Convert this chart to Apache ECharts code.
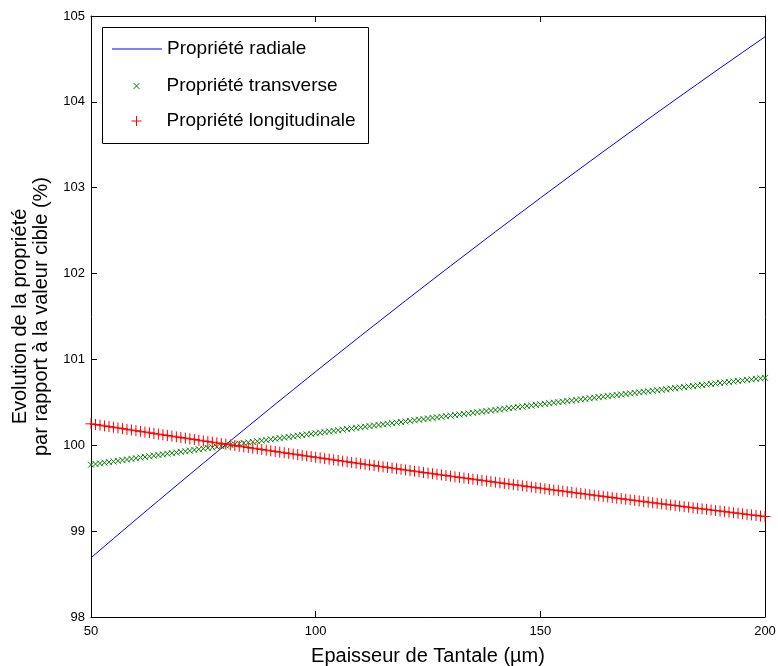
<!DOCTYPE html>
<html><head><meta charset="utf-8">
<script src="https://cdn.jsdelivr.net/npm/echarts@6/dist/echarts.min.js"></script>
<style>html,body{margin:0;padding:0;background:#fff}#c{width:778px;height:666px}</style>
</head><body><div id="c"></div>
<script>
// Thickness of tantalum (µm) for marker series
const thickness = [50,51,52,53,54,55,56,57,58,59,60,61,62,63,64,65,66,67,68,69,70,71,72,73,74,75,76,77,78,79,80,81,82,83,84,85,86,87,88,89,90,91,92,93,94,95,96,97,98,99,100,101,102,103,104,105,106,107,108,109,110,111,112,113,114,115,116,117,118,119,120,121,122,123,124,125,126,127,128,129,130,131,132,133,134,135,136,137,138,139,140,141,142,143,144,145,146,147,148,149,150,151,152,153,154,155,156,157,158,159,160,161,162,163,164,165,166,167,168,169,170,171,172,173,174,175,176,177,178,179,180,181,182,183,184,185,186,187,188,189,190,191,192,193,194,195,196,197,198,199,200];
// Thickness for the radial line
const radialThickness = [50,55,60,65,70,75,80,85,90,95,100,105,110,115,120,125,130,135,140,145,150,155,160,165,170,175,180,185,190,195,200];
const radial = [98.690,98.913,99.135,99.355,99.574,99.792,100.008,100.222,100.436,100.647,100.858,101.066,101.274,101.479,101.684,101.887,102.088,102.288,102.487,102.684,102.880,103.074,103.267,103.458,103.648,103.837,104.024,104.209,104.394,104.576,104.758];
const transverse = [99.774,99.782,99.789,99.797,99.804,99.812,99.819,99.827,99.834,99.842,99.849,99.857,99.864,99.872,99.879,99.887,99.894,99.902,99.909,99.916,99.924,99.931,99.938,99.946,99.953,99.960,99.968,99.975,99.982,99.990,99.997,100.004,100.011,100.019,100.026,100.033,100.040,100.047,100.055,100.062,100.069,100.076,100.083,100.090,100.097,100.104,100.112,100.119,100.126,100.133,100.140,100.147,100.154,100.161,100.168,100.175,100.182,100.189,100.196,100.203,100.209,100.216,100.223,100.230,100.237,100.244,100.251,100.258,100.264,100.271,100.278,100.285,100.292,100.298,100.305,100.312,100.319,100.325,100.332,100.339,100.346,100.352,100.359,100.366,100.372,100.379,100.385,100.392,100.399,100.405,100.412,100.418,100.425,100.432,100.438,100.445,100.451,100.458,100.464,100.471,100.477,100.483,100.490,100.496,100.503,100.509,100.516,100.522,100.528,100.535,100.541,100.547,100.554,100.560,100.566,100.573,100.579,100.585,100.591,100.598,100.604,100.610,100.616,100.623,100.629,100.635,100.641,100.647,100.653,100.660,100.666,100.672,100.678,100.684,100.690,100.696,100.702,100.708,100.714,100.720,100.726,100.732,100.738,100.744,100.750,100.756,100.762,100.768,100.774,100.780,100.786];
const longitudinal = [100.250,100.242,100.234,100.226,100.218,100.210,100.202,100.194,100.186,100.178,100.170,100.162,100.154,100.146,100.138,100.130,100.122,100.114,100.106,100.098,100.090,100.083,100.075,100.067,100.059,100.051,100.043,100.036,100.028,100.020,100.012,100.005,99.997,99.989,99.982,99.974,99.966,99.959,99.951,99.943,99.936,99.928,99.920,99.913,99.905,99.898,99.890,99.883,99.875,99.868,99.860,99.853,99.845,99.838,99.830,99.823,99.815,99.808,99.800,99.793,99.786,99.778,99.771,99.764,99.756,99.749,99.742,99.734,99.727,99.720,99.712,99.705,99.698,99.691,99.683,99.676,99.669,99.662,99.655,99.648,99.640,99.633,99.626,99.619,99.612,99.605,99.598,99.591,99.584,99.577,99.570,99.563,99.556,99.549,99.542,99.535,99.528,99.521,99.514,99.507,99.500,99.493,99.486,99.479,99.472,99.466,99.459,99.452,99.445,99.438,99.432,99.425,99.418,99.411,99.405,99.398,99.391,99.384,99.378,99.371,99.364,99.358,99.351,99.344,99.338,99.331,99.325,99.318,99.312,99.305,99.298,99.292,99.285,99.279,99.272,99.266,99.259,99.253,99.246,99.240,99.234,99.227,99.221,99.214,99.208,99.202,99.195,99.189,99.183,99.176,99.170];
const seriesNames = ['Propriété radiale', 'Propriété transverse', 'Propriété longitudinale'];
const xTitle = 'Epaisseur de Tantale (µm)';
const yTitle = 'Evolution de la propriété\npar rapport à la valeur cible (%)';
const xRange = [50, 200];
const yRange = [98, 105];

const FONT = "'Liberation Sans', Arial, sans-serif";
const pair = (xs, ys) => xs.map((x, i) => [x, ys[i]]);
const crossPath = 'path://M0,0L10,10M10,0L0,10';
const plusPath = 'path://M5,0L5,10M0,5L10,5';
// legend icons: 50 px wide boxes with the marker centred (zero-length end strokes fix the box)
const crossLegend = 'path://M0,3L0,3M50,3L50,3M22,0L28,6M28,0L22,6';
const plusLegend = 'path://M0,5L0,5M50,5L50,5M25,0L25,10M20,5L30,5';

const chart = echarts.init(document.getElementById('c'), null, {renderer: 'canvas'});
const axisLine = {show: true, onZero: false, lineStyle: {color: '#000', width: 1}};
const axisTick = {show: true, inside: true, length: 6, lineStyle: {color: '#000', width: 1}};
const legendBase = {orient: 'horizontal', padding: 0, itemWidth: 50, itemGap: 0,
  textStyle: {fontFamily: FONT, fontSize: 19, lineHeight: 20, color: '#000'}, selectedMode: false, left: 112};

chart.setOption({
  animation: false,
  backgroundColor: '#fff',
  grid: {left: 91, right: 13, top: 16, bottom: 49, containLabel: false, outerBoundsMode: 'none'},
  xAxis: [
    {type: 'value', min: xRange[0], max: xRange[1], interval: 50, position: 'bottom',
     axisLine, axisTick, splitLine: {show: false},
     axisLabel: {color: '#000', fontFamily: FONT, fontSize: 13, margin: 8},
     name: xTitle, nameLocation: 'middle', nameGap: 29,
     nameTextStyle: {color: '#000', fontFamily: FONT, fontSize: 20}},
    {type: 'value', min: xRange[0], max: xRange[1], interval: 50, position: 'top',
     axisLine, axisTick, splitLine: {show: false}, axisLabel: {show: false}}
  ],
  yAxis: [
    {type: 'value', min: yRange[0], max: yRange[1], interval: 1, position: 'left',
     axisLine, axisTick, splitLine: {show: false},
     axisLabel: {color: '#000', fontFamily: FONT, fontSize: 13, margin: 6},
     name: yTitle, nameLocation: 'middle', nameGap: 39, nameRotate: 90,
     nameTextStyle: {color: '#000', fontFamily: FONT, fontSize: 20, lineHeight: 21, align: 'center'}},
    {type: 'value', min: yRange[0], max: yRange[1], interval: 1, position: 'right',
     axisLine, axisTick, splitLine: {show: false}, axisLabel: {show: false}}
  ],
  graphic: [{type: 'rect', left: 102, top: 27, shape: {width: 266, height: 116},
    style: {fill: '#fff', stroke: '#000', lineWidth: 1}, z: 10, silent: true}],
  legend: [
    Object.assign({}, legendBase, {data: [{name: seriesNames[0], icon: 'rect'}], top: 39, itemHeight: 1, z: 20,
      itemStyle: {color: '#0000ff', borderWidth: 0}}),
    Object.assign({}, legendBase, {data: [{name: seriesNames[1], icon: crossLegend}], top: 76, left: 109, itemHeight: 6, z: 20,
      itemStyle: {borderWidth: 1, borderColor: '#008000', color: 'none'}}),
    Object.assign({}, legendBase, {data: [{name: seriesNames[2], icon: plusLegend}], top: 111, left: 109, itemHeight: 10, z: 20,
      itemStyle: {borderWidth: 1, borderColor: '#ff0000', color: 'none'}})
  ],
  series: [
    {name: seriesNames[0], type: 'line', data: pair(radialThickness, radial), showSymbol: false, symbol: 'none',
     lineStyle: {color: '#0000ff', width: 1}, itemStyle: {color: '#0000ff'}, silent: true, z: 2},
    {name: seriesNames[1], type: 'scatter', data: pair(thickness, transverse), symbol: crossPath, symbolSize: 6,
     itemStyle: {color: 'none', borderColor: '#008000', borderWidth: 1, opacity: 1}, silent: true, z: 3},
    {name: seriesNames[2], type: 'scatter', data: pair(thickness, longitudinal), symbol: plusPath, symbolSize: 11,
     itemStyle: {color: 'none', borderColor: '#ff0000', borderWidth: 1, opacity: 1}, silent: true, z: 4}
  ]
});
</script></body></html>
